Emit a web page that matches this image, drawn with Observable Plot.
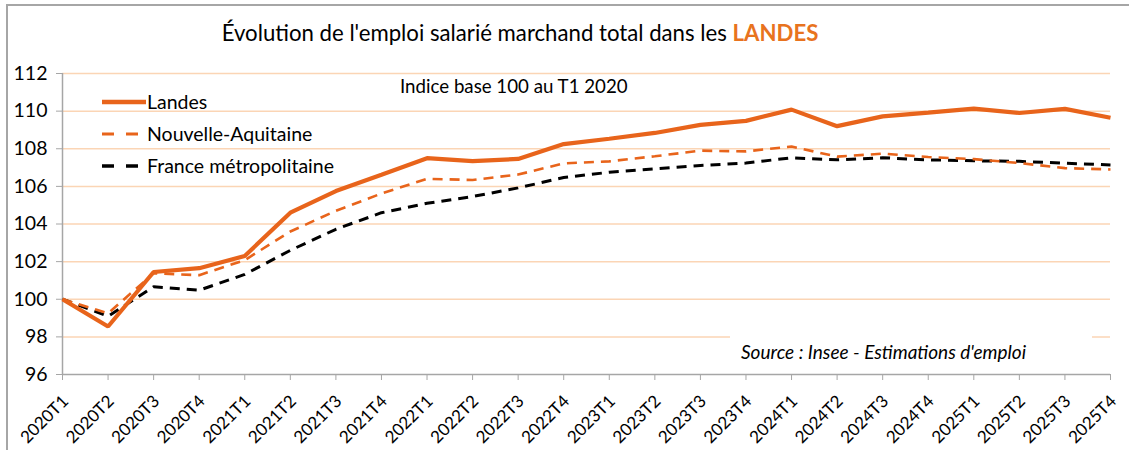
<!DOCTYPE html>
<html>
<head>
<meta charset="utf-8">
<script src="https://cdn.jsdelivr.net/npm/d3@7"></script>
<script src="https://cdn.jsdelivr.net/npm/@observablehq/plot@0.6"></script>
<style>
  body { margin: 0; background: #fff; }
  #wrap { position: relative; width: 1129px; height: 450px; overflow: hidden; font-family: Lato, "Open Sans", sans-serif; color: #000; }
  #border { position: absolute; left: 6px; top: 4px; width: 1140px; height: 460px; border-left: 2px solid #a6a6a6; border-top: 2px solid #a6a6a6; }
  #title { position: absolute; left: 0; width: 1040px; top: 19px; text-align: center; font-size: 22.2px; white-space: nowrap; }
  #title b { color: #E8731E; }
  #subtitle { position: absolute; left: 400px; top: 75px; font-size: 18.7px; white-space: nowrap; }
  #source { position: absolute; left: 730px; top: 330px; width: 362px; height: 40px; background: #fff; font-size: 19px; font-style: italic; white-space: nowrap; }
  #source span { position: absolute; left: 11px; top: 10px; }
  #legend { position: absolute; left: 102px; top: 90px; font-size: 19.5px; }
  .li { position: relative; height: 32px; white-space: nowrap; }
  .li svg { position: absolute; left: 0; top: 5px; }
  .li span { position: absolute; left: 45px; top: 0px; }
  #chart { position: absolute; left: 0; top: 0; }
</style>
</head>
<body>
<div id="wrap">
  <div id="chart"></div>
  <div id="border"></div>
  <div id="title">Évolution de l'emploi salarié marchand total dans les <b>LANDES</b></div>
  <div id="subtitle">Indice base 100 au T1 2020</div>
  <div id="source"><span>Source : Insee - Estimations d'emploi</span></div>
  <div id="legend"></div>
</div>
<script>
const quarters = ["2020T1","2020T2","2020T3","2020T4","2021T1","2021T2","2021T3","2021T4",
  "2022T1","2022T2","2022T3","2022T4","2023T1","2023T2","2023T3","2023T4",
  "2024T1","2024T2","2024T3","2024T4","2025T1","2025T2","2025T3","2025T4"];
const landes = [100, 98.55, 101.45, 101.65, 102.3, 104.6, 105.75, 106.62,
  107.5, 107.34, 107.46, 108.25, 108.53, 108.84, 109.27, 109.48,
  110.08, 109.2, 109.72, 109.92, 110.13, 109.9, 110.12, 109.65];
const nouvelleAquitaine = [100, 99.25, 101.38, 101.28, 102.08, 103.6, 104.7, 105.62,
  106.4, 106.34, 106.63, 107.22, 107.33, 107.6, 107.9, 107.86,
  108.12, 107.58, 107.74, 107.56, 107.45, 107.24, 106.97, 106.9];
const france = [100, 99.1, 100.66, 100.48, 101.32, 102.6, 103.72, 104.6,
  105.1, 105.46, 105.92, 106.47, 106.75, 106.93, 107.11, 107.24,
  107.52, 107.41, 107.52, 107.41, 107.36, 107.33, 107.23, 107.14];
const seriesNames = ["Landes", "Nouvelle-Aquitaine", "France métropolitaine"];
const yTicks = [96, 98, 100, 102, 104, 106, 108, 110, 112];

const styles = {
  "Landes": {stroke: "#E8641B", width: 4.2, dash: null},
  "Nouvelle-Aquitaine": {stroke: "#E8641B", width: 2.6, dash: "10,7"},
  "France métropolitaine": {stroke: "#000000", width: 3, dash: "10,7"}
};
const valuesBy = {"Landes": landes, "Nouvelle-Aquitaine": nouvelleAquitaine, "France métropolitaine": france};
const rows = name => quarters.map((q, i) => ({q, v: valuesBy[name][i], s: name}));

const lineMarks = seriesNames.slice().reverse().map(name => Plot.line(rows(name), {
  x: "q", y: "v", stroke: styles[name].stroke, strokeWidth: styles[name].width,
  strokeDasharray: styles[name].dash, strokeLinejoin: "miter", strokeLinecap: "butt"
}));

const plot = Plot.plot({
  width: 1129, height: 450,
  marginLeft: 62, marginRight: 19, marginTop: 73, marginBottom: 76,
  style: {fontFamily: "Lato, 'Open Sans', sans-serif", color: "#000", background: "transparent"},
  x: {type: "point", domain: quarters, padding: 0, round: false, label: null},
  y: {domain: [96, 112], label: null},
  marks: [
    Plot.ruleY(yTicks.filter(d => d > 96), {stroke: "#FBD5B5", strokeWidth: 1.5}),
    Plot.ruleX([quarters[0]], {stroke: "#a6a6a6", strokeWidth: 1.5}),
    Plot.ruleY([96], {stroke: "#a6a6a6", strokeWidth: 1.5}),
    Plot.axisY({ticks: yTicks, tickSize: 6, tickPadding: 9, fontSize: 19.5, tickFormat: d => d, stroke: "#a6a6a6", label: null}),
    Plot.axisX({tickSize: 6, tickFormat: () => "", stroke: "#a6a6a6", label: null}),
    Plot.axisX({tickSize: 0, tickPadding: 24, tickRotate: -45, fontSize: 17, dx: 3, label: null}),
    ...lineMarks
  ]
});
document.getElementById("chart").appendChild(plot);

const legend = document.getElementById("legend");
seriesNames.forEach(name => {
  const st = styles[name];
  const d = document.createElement("div");
  d.className = "li";
  d.innerHTML = `<svg width="44" height="14"><line x1="0" y1="7" x2="${name === "Landes" ? 44 : 36}" y2="7" stroke="${st.stroke}" stroke-width="${name === "Landes" ? 4.5 : st.width + 0.4}" ${st.dash ? `stroke-dasharray="12,12"` : ""}/></svg><span>${name}</span>`;
  legend.appendChild(d);
});
</script>
</body>
</html>
